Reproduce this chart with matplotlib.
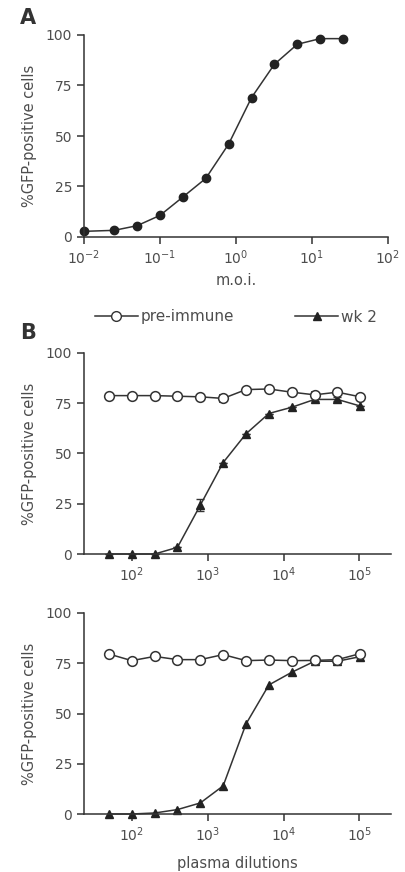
import numpy as np
import matplotlib
matplotlib.use("Agg")
import matplotlib.pyplot as plt
from matplotlib.lines import Line2D

# panel A: infection titration
moi = [0.01, 0.025, 0.05, 0.1, 0.2, 0.4, 0.8, 1.6, 3.2, 6.4, 12.8, 25.6]
gfp_moi = [2.8, 3.3, 5.6, 10.7, 19.8, 29.0, 46.0, 69.0, 85.5, 95.4, 98.2, 98.2]

# panel B: plasma neutralisation
dilutions = [50, 100, 200, 400, 800, 1600, 3200, 6400, 12800, 25600, 51200, 102400]

pre_top = [78.8, 78.8, 78.8, 78.5, 78.2, 77.4, 81.8, 82.1, 80.5, 79.2, 80.5, 78.2]
pre_top_err = [0, 0, 0, 0, 0, 1.8, 0, 0, 0, 1.5, 0, 0]
wk2_top = [0, 0, 0, 3.3, 24.3, 45.5, 59.8, 69.9, 73.0, 76.9, 76.9, 73.6]
wk2_top_err = [0, 0, 0, 0, 3.0, 0, 0, 0, 0, 1.0, 1.0, 0]

pre_bot = [79.6, 76.3, 78.4, 76.8, 76.8, 79.3, 76.3, 76.6, 76.3, 76.4, 76.8, 79.8]
wk2_bot = [0, 0, 0.5, 2.2, 5.5, 14.0, 44.8, 64.2, 70.5, 76.0, 76.0, 78.3]

yticks = [0, 25, 50, 75, 100]

ink = "#333333"
txt = "#4d4d4d"

plt.rcParams["font.family"] = ["DejaVu Sans"]
plt.rcParams["mathtext.default"] = "regular"
plt.rcParams["font.size"] = 10


def style(ax):
    for s in ["top", "right"]:
        ax.spines[s].set_visible(False)
    for s in ["left", "bottom"]:
        ax.spines[s].set_color(ink)
        ax.spines[s].set_linewidth(1.1)
    ax.tick_params(direction="out", length=5, width=1.1, color=ink,
                   labelcolor=txt, labelsize=10)
    ax.tick_params(axis="x", which="minor", length=0)
    ax.set_ylim(0, 100)
    ax.set_yticks(yticks)
    ax.set_ylabel("%GFP-positive cells", fontsize=10.5, color=txt, labelpad=6)


W, H = 405, 872
fig = plt.figure(figsize=(W / 100, H / 100), dpi=100)


def box(l, t, r, b):
    return [l / W, 1 - b / H, (r - l) / W, (b - t) / H]


# ---- A ----
axA = fig.add_axes(box(84, 35, 388, 237))
style(axA)
axA.set_xscale("log")
axA.set_xlim(0.01, 100)
axA.set_xticks([1e-2, 1e-1, 1e0, 1e1, 1e2])
axA.set_xticklabels([r"$10^{-2}$", r"$10^{-1}$", r"$10^{0}$", r"$10^{1}$", r"$10^{2}$"])
axA.plot(moi, gfp_moi, "-o", color=ink, lw=1.1, ms=6, mfc="#222222",
         mec="#222222", clip_on=False)
axA.set_xlabel("m.o.i.", color=txt, fontsize=10.5, labelpad=4)
fig.text(20 / W, 1 - 18 / H, "A", fontsize=15, fontweight="bold",
         color="#333333", va="center", ha="left")

# ---- B ----
dec_ticks = [1e2, 1e3, 1e4, 1e5]
dec_labels = [r"$10^{2}$", r"$10^{3}$", r"$10^{4}$", r"$10^{5}$"]

axB1 = fig.add_axes(box(84, 353, 391, 554))
axB2 = fig.add_axes(box(84, 613, 391, 814))
for ax in (axB1, axB2):
    style(ax)
    ax.set_xscale("log")
    ax.set_xlim(23.5, 2.6e5)
    ax.set_xticks(dec_ticks)
    ax.set_xticklabels(dec_labels)

axB1.errorbar(dilutions, pre_top, yerr=pre_top_err, fmt="-o", color=ink, lw=1.1,
              ms=7, mfc="white", mec=ink, mew=1.1, capsize=3, elinewidth=1,
              clip_on=False, zorder=3)
axB1.errorbar(dilutions, wk2_top, yerr=wk2_top_err, fmt="-^", color=ink, lw=1.1,
              ms=5.5, mfc="#222222", mec="#222222", capsize=3, elinewidth=1,
              clip_on=False, zorder=2)

axB2.plot(dilutions, pre_bot, "-o", color=ink, lw=1.1, ms=7, mfc="white",
          mec=ink, mew=1.1, clip_on=False, zorder=3)
axB2.plot(dilutions, wk2_bot, "-^", color=ink, lw=1.1, ms=5.5, mfc="#222222",
          mec="#222222", clip_on=False, zorder=2)
axB2.set_xlabel("plasma dilutions", color=txt, fontsize=10.5, labelpad=8)

fig.text(20 / W, 1 - 333 / H, "B", fontsize=15, fontweight="bold",
         color="#333333", va="center", ha="left")

handles = [
    Line2D([], [], color=ink, lw=1.1, marker="o", ms=7, mfc="white", mec=ink),
    Line2D([], [], color=ink, lw=1.1, marker="^", ms=5.5, mfc="#222222", mec="#222222"),
]
leg = fig.legend(handles, ["pre-immune", "wk 2"], loc="center left",
                 bbox_to_anchor=(95 / W, 1 - 317 / H), ncol=2, frameon=False,
                 fontsize=11, handlelength=2.8, handletextpad=0.2,
                 columnspacing=4.0, borderpad=0, borderaxespad=0)
for t in leg.get_texts():
    t.set_color(txt)

fig.savefig("out.png", dpi=100, facecolor="white")
